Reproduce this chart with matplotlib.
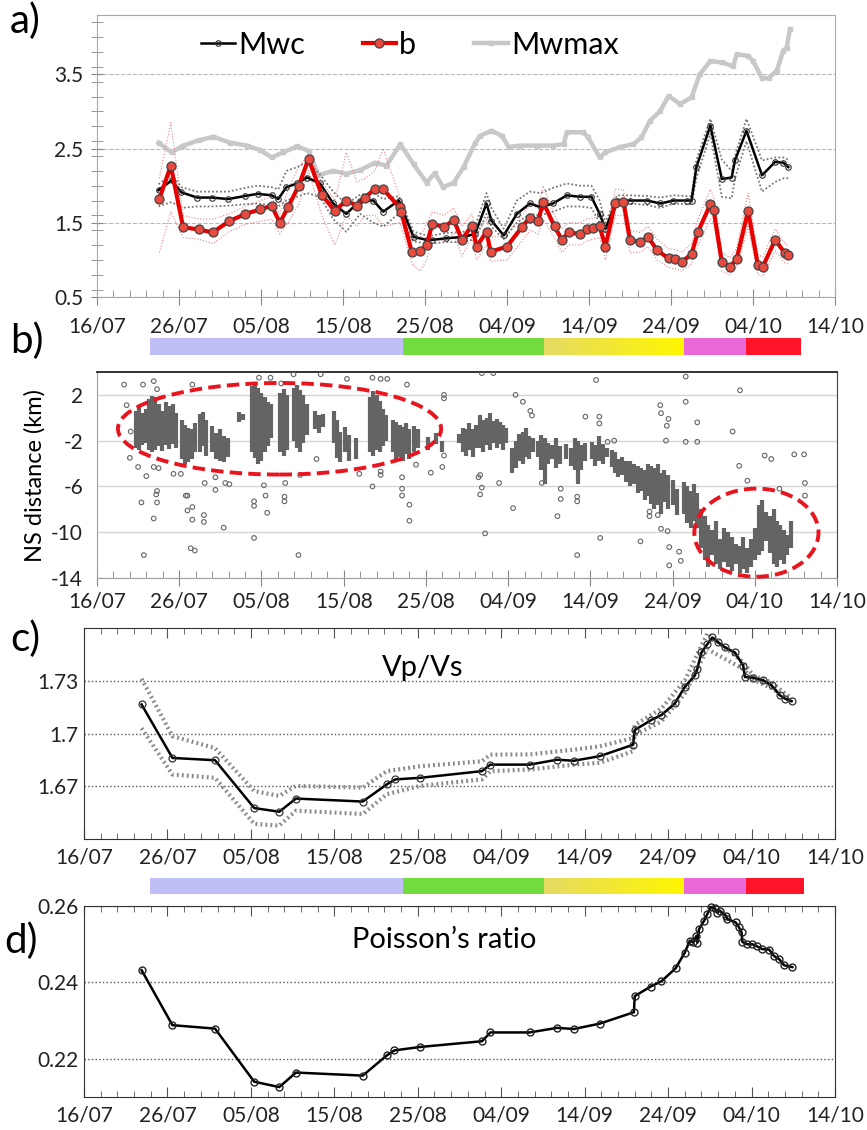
import numpy as np
import matplotlib.pyplot as plt
from matplotlib.patches import Ellipse
from matplotlib.colors import LinearSegmentedColormap
from matplotlib.ticker import MultipleLocator, FixedLocator

plt.rcParams['font.family'] = ['Lato', 'DejaVu Sans']

# x axis: days since 16/07
date_ticks = [0, 10, 20, 30, 40, 50, 60, 70, 80, 90]
date_labels = ['16/07', '26/07', '05/08', '15/08', '25/08',
               '04/09', '14/09', '24/09', '04/10', '14/10']

# ---- a) magnitude of completeness, b-value, max magnitude
mwc_day = [7.5, 9.1, 10.3, 12.2, 14.0, 16.0, 18.0, 19.6, 21.3, 22.1,
           23.1, 24.4, 25.6, 27.2, 28.8, 30.4, 32.1, 33.7, 34.9, 36.8,
           38.6, 40.2, 40.9, 42.5, 44.7, 46.1, 47.5, 48.1, 49.6, 51.2,
           52.8, 54.1, 55.6, 57.3, 58.9, 60.3, 61.3, 62.0, 63.4, 65.0,
           67.1, 68.7, 70.3, 71.9, 72.5, 73.1, 74.8, 76.2, 77.4, 77.8,
           79.2, 81.1, 82.7, 83.7, 84.3]
mwc = [1.94, 2.07, 1.91, 1.84, 1.84, 1.82, 1.86, 1.89, 1.87, 1.82,
       1.98, 2.03, 2.11, 2.03, 1.76, 1.62, 1.80, 1.80, 1.65, 1.80,
       1.31, 1.27, 1.27, 1.29, 1.31, 1.35, 1.76, 1.53, 1.33, 1.62,
       1.76, 1.71, 1.76, 1.87, 1.85, 1.85, 1.62, 1.42, 1.80, 1.80,
       1.80, 1.76, 1.80, 1.80, 1.80, 2.25, 2.81, 2.09, 2.11, 2.34,
       2.74, 2.14, 2.32, 2.31, 2.25]
mwc_hi = [2.02, 2.15, 1.98, 1.92, 1.92, 1.92, 1.97, 2.00, 1.98, 1.95,
          2.20, 2.25, 2.32, 2.15, 1.92, 1.75, 1.88, 1.90, 1.82, 1.86,
          1.38, 1.33, 1.33, 1.36, 1.38, 1.45, 1.90, 1.70, 1.42, 1.80,
          1.92, 1.90, 1.97, 2.03, 2.00, 2.00, 1.80, 1.50, 1.87, 1.87,
          1.86, 1.84, 1.87, 1.86, 1.86, 2.35, 2.90, 2.35, 2.20, 2.40,
          2.90, 2.34, 2.38, 2.38, 2.35]
mwc_lo = [1.72, 1.78, 1.70, 1.72, 1.72, 1.73, 1.75, 1.76, 1.74, 1.72,
          1.80, 1.85, 1.90, 1.85, 1.55, 1.38, 1.62, 1.50, 1.45, 1.62,
          1.25, 1.22, 1.22, 1.24, 1.24, 1.28, 1.62, 1.45, 1.28, 1.50,
          1.62, 1.60, 1.65, 1.72, 1.72, 1.70, 1.50, 1.38, 1.74, 1.76,
          1.74, 1.70, 1.76, 1.75, 1.75, 2.10, 2.70, 1.85, 1.83, 2.10,
          2.60, 1.92, 2.05, 2.10, 2.10]

b_day = [7.6, 9.0, 10.5, 12.4, 14.1, 16.1, 18.1, 19.9, 21.3, 22.3,
         23.3, 24.6, 25.8, 27.4, 29.0, 30.4, 31.7, 32.7, 33.9, 34.9,
         36.9, 37.1, 38.4, 39.4, 40.2, 40.9, 42.3, 43.5, 44.5, 45.7,
         46.3, 47.5, 48.0, 50.0, 51.8, 52.8, 53.8, 54.4, 55.8, 56.7,
         57.5, 58.9, 59.7, 60.5, 61.3, 62.0, 63.2, 64.2, 65.0, 66.2,
         67.2, 68.3, 69.7, 70.5, 71.3, 72.5, 73.3, 74.8, 75.2, 76.2,
         77.2, 78.0, 79.4, 80.6, 81.2, 82.7, 83.9, 84.3]
b_val = [1.82, 2.27, 1.44, 1.41, 1.37, 1.52, 1.62, 1.68, 1.73, 1.50,
         1.71, 2.00, 2.36, 1.88, 1.66, 1.80, 1.73, 1.84, 1.96, 1.95,
         1.71, 1.65, 1.10, 1.12, 1.20, 1.49, 1.44, 1.54, 1.27, 1.46,
         1.18, 1.38, 1.11, 1.18, 1.44, 1.57, 1.52, 1.78, 1.45, 1.27,
         1.37, 1.35, 1.41, 1.43, 1.45, 1.18, 1.77, 1.78, 1.27, 1.24,
         1.31, 1.13, 1.02, 1.01, 0.97, 1.08, 1.38, 1.75, 1.67, 0.97,
         0.91, 1.01, 1.66, 0.93, 0.91, 1.27, 1.09, 1.07]
b_hi = [2.10, 2.85, 1.60, 1.55, 1.55, 1.62, 1.72, 1.80, 1.85, 1.62,
        1.95, 2.25, 2.42, 2.05, 1.80, 2.45, 2.05, 2.10, 2.20, 2.50,
        1.85, 1.80, 1.25, 1.30, 1.50, 1.65, 1.60, 1.70, 1.45, 1.62,
        1.35, 1.55, 1.30, 1.35, 1.60, 1.75, 1.70, 2.00, 1.60, 1.42,
        1.50, 1.50, 1.55, 1.56, 1.60, 1.35, 1.95, 1.95, 1.40, 1.37,
        1.45, 1.28, 1.15, 1.14, 1.10, 1.22, 1.55, 1.95, 1.85, 1.10,
        1.03, 1.15, 1.90, 1.07, 1.04, 1.42, 1.22, 1.20]
b_lo = [1.10, 1.65, 1.30, 1.28, 1.22, 1.38, 1.48, 1.52, 1.55, 1.35,
        1.50, 1.75, 2.20, 1.60, 1.20, 1.60, 1.45, 1.60, 1.60, 1.45,
        1.50, 1.45, 0.95, 0.85, 1.00, 1.30, 1.25, 1.35, 1.05, 1.30,
        1.00, 1.20, 0.98, 1.00, 1.25, 1.40, 1.35, 1.55, 1.30, 1.10,
        1.20, 1.20, 1.25, 1.28, 1.30, 1.00, 1.60, 1.60, 1.10, 1.10,
        1.18, 1.00, 0.90, 0.88, 0.85, 0.95, 1.20, 1.55, 1.50, 0.85,
        0.80, 0.90, 1.45, 0.80, 0.78, 1.12, 0.96, 0.95]

mwmax_day = [7.5, 9.1, 10.5, 12.4, 14.2, 16.2, 18.3, 19.9, 21.3, 22.7,
             24.4, 25.8, 27.0, 28.8, 30.4, 32.1, 33.9, 35.3, 37.0, 38.6,
             40.2, 41.2, 42.2, 43.5, 44.7, 46.1, 46.7, 48.1, 49.4, 50.2,
             51.6, 53.6, 55.6, 56.9, 57.3, 59.3, 59.9, 61.3, 62.0, 63.8,
             65.4, 66.4, 67.4, 68.7, 69.7, 71.1, 72.5, 73.5, 74.8, 76.2,
             77.6, 78.0, 79.4, 80.0, 81.1, 81.9, 82.9, 83.7, 84.1, 84.5]
mwmax = [2.58, 2.45, 2.54, 2.61, 2.66, 2.58, 2.54, 2.48, 2.38, 2.45,
         2.53, 2.47, 2.14, 2.20, 2.16, 2.21, 2.31, 2.27, 2.56, 2.29,
         2.04, 2.17, 1.98, 2.04, 2.25, 2.57, 2.67, 2.74, 2.67, 2.52,
         2.54, 2.54, 2.54, 2.56, 2.72, 2.72, 2.65, 2.38, 2.45, 2.52,
         2.56, 2.65, 2.87, 3.01, 3.21, 3.10, 3.19, 3.50, 3.68, 3.66,
         3.61, 3.77, 3.75, 3.68, 3.45, 3.45, 3.55, 3.82, 3.86, 4.11]

# ---- colour bars (phases), in days
phase_edges = [6.45, 37.2, 54.4, 71.4, 78.9, 85.6]
phase_colors = ['#bfbff5', '#72dc3e', None, '#ea68d8', '#ff1428']

# ---- b) NS distance of events: dense streaks (day, low, high) and single events
streaks = [
    (4.7, -2.6, 0.6), (5.1, -2.8, 0.9), (5.5, -2.4, 0.4), (5.9, -2.2, 0.8),
    (6.3, -2.8, 1.6), (6.7, -3.0, 1.9), (7.1, -2.8, 1.8), (7.5, -2.5, 1.2),
    (7.9, -2.9, 0.6), (8.4, -2.4, 1.4), (8.8, -2.7, 1.0), (9.2, -2.3, 1.2),
    (9.6, -2.6, 0.4), (10.3, -3.6, -0.2), (10.7, -4.0, -0.6), (11.1, -3.9, -0.9),
    (11.5, -3.6, -1.0), (11.9, -3.0, -0.5), (12.5, -3.0, 0.3), (12.9, -2.5, 0.5),
    (13.3, -3.3, -0.2), (14.0, -3.0, -0.7), (14.5, -3.6, -1.3), (15.0, -3.8, -1.0),
    (15.5, -3.9, -1.6), (15.9, -3.4, -1.8), (17.3, -0.4, 0.5), (17.8, -0.2, 0.3),
    (18.8, -3.0, 2.8), (19.2, -3.5, 3.0), (19.6, -4.0, 2.6), (20.0, -3.8, 2.2),
    (20.4, -3.0, 1.8), (20.8, -2.5, 1.4), (21.2, -1.8, 1.2), (22.3, -3.0, 2.2),
    (22.7, -3.3, 2.5), (23.1, -2.8, 2.0), (23.9, -2.0, 2.6), (24.3, -2.6, 2.9),
    (24.7, -3.0, 2.4), (25.1, -2.2, 2.0), (25.5, -1.5, 1.2), (26.5, -1.0, 0.6),
    (27.0, -1.3, 0.2), (27.5, -0.8, 0.3), (28.8, -2.2, 0.6), (29.2, -3.5, -0.2),
    (29.6, -3.9, -1.2), (30.2, -3.0, -0.8), (30.6, -3.8, -1.5), (31.5, -3.6, -1.8),
    (33.2, -3.0, 1.8), (33.6, -3.3, 2.3), (34.0, -2.8, 2.0), (34.4, -3.0, 1.5),
    (34.8, -2.5, 0.8), (35.2, -2.0, 0.2), (36.0, -3.0, -0.2), (36.4, -3.6, -0.4),
    (36.8, -3.4, -0.6), (37.2, -3.8, -0.8), (37.6, -3.2, -0.5), (38.0, -3.6, -1.0),
    (38.5, -3.0, -0.7), (39.0, -2.6, -1.0), (40.3, -2.8, -1.7), (41.2, -2.3, -1.3),
    (42.0, -3.0, -2.0), (44.0, -2.2, -1.4), (44.5, -3.0, -0.9), (44.9, -3.3, -1.0),
    (45.3, -2.8, -0.5), (45.7, -3.4, -1.0), (46.1, -2.6, -0.6), (46.6, -2.6, 0.2),
    (47.0, -3.0, -0.2), (47.4, -2.4, 0.0), (47.8, -2.8, 0.4), (48.2, -2.2, -0.3),
    (48.6, -2.6, -0.1), (49.0, -2.3, -0.4), (49.4, -2.8, -0.6), (49.8, -2.2, -0.9),
    (50.5, -4.8, -2.6), (50.9, -4.4, -2.0), (51.3, -3.8, -1.4), (51.8, -4.0, -1.2),
    (52.2, -3.4, -0.9), (52.6, -3.6, -1.6), (53.0, -3.0, -1.8), (53.6, -3.4, -2.0),
    (54.0, -4.6, -1.5), (54.5, -5.8, -1.8), (54.9, -4.0, -2.2), (55.3, -3.6, -2.4),
    (55.8, -4.4, -1.8), (56.3, -4.0, -2.5), (57.0, -3.6, -2.3), (57.6, -4.2, -2.6),
    (58.1, -4.6, -1.8), (58.5, -5.8, -2.0), (58.9, -4.6, -2.4), (59.3, -3.8, -2.2),
    (60.2, -3.6, -2.1), (60.6, -4.2, -2.4), (61.0, -3.8, -1.6), (61.5, -4.0, -2.3),
    (62.0, -3.4, -2.6), (62.6, -4.3, -2.8), (63.0, -4.8, -3.0), (63.4, -5.2, -3.6),
    (63.8, -5.0, -3.4), (64.3, -5.6, -3.8), (64.8, -6.0, -3.8), (65.3, -5.8, -4.0),
    (65.8, -6.6, -4.2), (66.2, -6.4, -4.4), (66.6, -7.2, -4.6), (67.0, -6.8, -4.0),
    (67.4, -7.5, -4.2), (67.8, -8.0, -4.4), (68.2, -7.6, -4.0), (68.6, -8.4, -4.8),
    (69.0, -7.4, -4.6), (69.5, -8.0, -5.0), (70.0, -7.6, -5.4), (70.5, -8.5, -6.2),
    (71.4, -8.4, -5.6), (71.8, -9.2, -6.0), (72.2, -9.6, -6.4), (72.6, -9.0, -5.8),
    (73.0, -9.6, -6.6), (73.5, -11.4, -8.0), (73.9, -12.4, -8.6), (74.3, -13.0, -9.4),
    (74.8, -12.0, -9.8), (75.3, -12.8, -9.0), (75.8, -13.2, -10.6), (76.2, -12.6, -9.6),
    (76.7, -13.0, -10.0), (77.2, -13.4, -10.4), (77.7, -12.8, -11.0), (78.2, -13.6, -11.2),
    (78.6, -13.2, -10.4), (79.1, -13.6, -11.4), (79.5, -13.0, -10.6), (80.0, -12.4, -9.6),
    (80.5, -12.0, -7.6), (80.9, -11.6, -7.2), (81.4, -10.8, -8.2), (81.8, -11.8, -8.6),
    (82.3, -12.8, -8.0), (82.7, -13.0, -9.0), (83.1, -12.4, -9.4), (83.5, -12.8, -9.8),
    (83.9, -12.0, -10.2), (84.4, -11.4, -9.0),
]
events = [
    (3.3, 2.9), (5.6, 2.9), (6.9, 3.2), (7.3, 2.5), (11.6, 2.9), (3.6, 1.1),
    (4.1, -1.2), (4.0, -3.5), (5.0, -4.3), (6.0, -5.1), (6.9, -4.3), (7.5, -4.4),
    (7.2, -6.7), (7.3, -6.4), (5.4, -7.4), (7.3, -7.4), (6.9, -8.8), (5.7, -12.0),
    (9.3, -4.9), (10.2, -4.9), (11.0, -6.8), (10.8, -6.8), (11.0, -8.1), (11.6, -7.8),
    (11.6, -8.9), (13.0, -8.5), (13.0, -9.1), (11.4, -11.4), (11.9, -11.6), (15.4, -9.6),
    (14.4, -6.3), (14.4, -5.2), (15.6, -5.7), (16.1, -5.8), (13.1, -5.7), (19.1, -10.5),
    (19.1, -7.3), (19.1, -7.7), (20.3, -5.9), (20.5, -6.8), (20.7, -8.3), (19.7, 3.5),
    (21.1, 3.5), (22.4, 3.0), (22.8, -7.3), (22.8, -6.9), (23.9, 3.8), (27.2, 3.8),
    (30.4, 3.4), (33.5, 3.5), (34.5, 3.4), (35.3, 3.4), (37.7, 2.9), (42.2, 2.0),
    (42.2, 1.7), (22.9, -5.7), (24.5, -12.0), (33.5, -6.0), (34.5, -5.0), (34.5, -4.7),
    (37.1, -5.2), (37.1, -6.2), (37.1, -6.8), (38.0, -7.6), (38.0, -9.0), (38.8, -4.1),
    (40.6, -4.8), (42.0, -4.3), (42.2, -3.3), (31.9, -4.9), (24.7, -5.0), (26.7, -3.6),
    (46.8, 3.9), (48.2, 3.9), (50.9, 2.0), (51.8, 1.4), (60.7, 3.3), (61.1, 0.1),
    (61.1, -0.5), (59.4, 0.1), (52.7, 0.6), (52.9, 0.2), (46.6, -6.7), (46.8, -6.1),
    (46.4, -5.2), (46.6, -5.0), (48.9, -5.7), (50.6, -7.9), (47.2, -10.1), (56.0, -8.6),
    (56.4, -7.1), (56.4, -6.2), (58.4, -12.0), (58.4, -7.3), (58.4, -6.9), (61.2, -10.5),
    (66.1, -10.8), (67.2, -8.2), (67.2, -8.6), (54.1, -5.7), (62.9, -2.0), (62.1, -2.1),
    (71.6, 3.6), (78.2, 2.4), (68.5, 1.1), (68.6, 0.4), (71.6, 1.4), (73.0, -0.4),
    (69.5, -0.1), (69.3, -0.7), (77.3, -1.2), (69.2, -2.0), (71.6, -2.1), (73.0, -2.1),
    (81.2, -3.3), (82.0, -3.6), (84.8, -3.2), (86.0, -3.2), (78.1, -4.2), (79.1, -5.5),
    (83.0, -6.2), (86.1, -5.7), (86.1, -6.8), (68.6, -9.7), (69.4, -9.9), (69.6, -11.3),
    (70.8, -11.7), (71.0, -12.5), (69.6, -12.9), (68.2, -8.5),
]

# ---- c) Vp/Vs
vp_day = [6.9, 10.6, 15.7, 20.4, 23.4, 25.4, 33.4, 36.3, 37.3, 40.3,
          47.7, 48.7, 53.4, 56.7, 58.7, 61.8, 65.8, 66.0, 68.0, 69.2,
          70.8, 72.0, 73.2, 73.5, 74.0, 74.7, 75.3, 76.0, 76.8, 78.0,
          79.0, 79.2, 80.2, 81.4, 82.4, 83.4, 84.0, 84.8]
vp = [1.7165, 1.6861, 1.6848, 1.6576, 1.6555, 1.6630, 1.6613, 1.6711, 1.6739, 1.6748,
      1.6786, 1.6823, 1.6823, 1.6851, 1.6845, 1.6871, 1.6936, 1.7020, 1.7077, 1.7105,
      1.7171, 1.7265, 1.7330, 1.7368, 1.7461, 1.7508, 1.7546, 1.7518, 1.7490, 1.7461,
      1.7386, 1.7321, 1.7317, 1.7302, 1.7274, 1.7217, 1.7199, 1.7184]
vp_bnd_day = [6.9, 10.6, 15.7, 20.4, 23.4, 25.4, 33.4, 36.3, 40.3, 47.7,
              48.7, 53.4, 58.7, 61.8, 65.8, 66.0, 69.2, 72.0, 74.7, 79.0,
              80.2, 82.4, 84.8]
vp_hi = [1.7311, 1.6985, 1.6917, 1.6673, 1.6645, 1.6702, 1.6692, 1.6786, 1.6814, 1.6842,
         1.6880, 1.6881, 1.6908, 1.6927, 1.6974, 1.7048, 1.7142, 1.7302, 1.7570, 1.7405,
         1.7330, 1.7290, 1.7199]
vp_lo = [1.7030, 1.6767, 1.6748, 1.6486, 1.6476, 1.6561, 1.6542, 1.6655, 1.6702, 1.6739,
         1.6786, 1.6795, 1.6823, 1.6833, 1.6899, 1.6992, 1.7068, 1.7227, 1.7480, 1.7367,
         1.7305, 1.7258, 1.7177]

# ---- d) Poisson's ratio
pr_day = [6.9, 10.6, 15.7, 20.4, 23.4, 25.4, 33.4, 36.3, 37.2, 40.3,
          47.7, 48.7, 53.4, 56.7, 58.7, 61.8, 65.9, 66.0, 67.9, 69.2,
          70.9, 72.0, 72.6, 73.0, 73.4, 73.5, 73.7, 74.3, 74.7, 75.1,
          75.6, 75.9, 76.2, 76.9, 77.1, 78.1, 78.5, 78.8, 78.9, 79.5,
          80.1, 80.7, 81.3, 82.1, 82.7, 83.3, 83.9, 84.9]
pr = [0.2432, 0.2288, 0.2279, 0.2140, 0.2126, 0.2164, 0.2156, 0.2209, 0.2222, 0.2231,
      0.2246, 0.2269, 0.2269, 0.2281, 0.2278, 0.2292, 0.2322, 0.2364, 0.2389, 0.2403,
      0.2437, 0.2478, 0.2509, 0.2505, 0.2522, 0.2504, 0.2539, 0.2561, 0.2579, 0.2597,
      0.2594, 0.2582, 0.2588, 0.2575, 0.2566, 0.2557, 0.2544, 0.2531, 0.2506, 0.2500,
      0.2500, 0.2494, 0.2487, 0.2486, 0.2469, 0.2461, 0.2445, 0.2440]

TICK_FS = 15
W, H = 867, 1130


def px_axes(fig, left, top, right, bottom):
    return fig.add_axes([left / W, 1 - bottom / H, (right - left) / W, (bottom - top) / H])


def date_axis(ax):
    ax.set_xlim(0, 90)
    ax.xaxis.set_major_locator(FixedLocator(date_ticks))
    ax.set_xticklabels(date_labels)
    ax.xaxis.set_minor_locator(MultipleLocator(2))
    ax.tick_params(axis='both', labelsize=TICK_FS, colors='#222222')


def phase_bar(fig, top, bottom, right_day):
    bax = px_axes(fig, 97, top, 837, bottom)
    edges = phase_edges[:-1] + [right_day]
    for i, c in enumerate(phase_colors):
        if c is None:
            cmap = LinearSegmentedColormap.from_list('yel', ['#e6da64', '#fff700'])
            bax.imshow(np.linspace(0, 1, 100)[None, :], cmap=cmap, aspect='auto',
                       extent=(edges[i], edges[i + 1], 0, 1))
        else:
            bax.axvspan(edges[i], edges[i + 1], color=c, lw=0)
    bax.set_xlim(0, 90)
    bax.set_ylim(0, 1)
    bax.axis('off')


fig = plt.figure(figsize=(W / 100, H / 100), dpi=100)

# ===== panel a
ax = px_axes(fig, 97, 15, 835, 297)
ax.plot(mwmax_day, mwmax, color='#c8c8c8', lw=3.2, marker='s', ms=2.5, zorder=2, label='Mwmax')
ax.plot(b_day, b_hi, color='#f08080', lw=0.8, ls=':', zorder=3)
ax.plot(b_day, b_lo, color='#f08080', lw=0.8, ls=':', zorder=3)
ax.plot(mwc_day, mwc_hi, color='#777777', lw=1.3, ls=(0, (1, 1.2)), zorder=3)
ax.plot(mwc_day, mwc_lo, color='#777777', lw=1.3, ls=(0, (1, 1.2)), zorder=3)
ax.plot(mwc_day, mwc, color='black', lw=1.8, marker='o', ms=4, mfc='none', mec='#333333',
        mew=0.8, zorder=4, label='Mwc')
ax.plot(b_day, b_val, color='#e60000', lw=3.0, marker='o', ms=6.5, mfc='#e84a40', mec='#444444',
        mew=0.9, zorder=5, label='b')
ax.set_ylim(0.5, 4.3)
ax.set_yticks([0.5, 1.5, 2.5, 3.5])
ax.set_yticklabels(['0.5', '1.5', '2.5', '3.5'])
ax.yaxis.set_minor_locator(MultipleLocator(0.2))
date_axis(ax)
ax.grid(axis='y', ls='--', color='#b8b8b8', lw=0.8)
ax.set_axisbelow(True)
for s in ax.spines.values():
    s.set_color('#a8a8a8')
ax.tick_params(axis='x', which='major', direction='inout', length=12, color='#888888', pad=8)
ax.tick_params(axis='x', which='minor', direction='in', length=5, color='#888888')
ax.tick_params(axis='y', which='both', direction='inout', length=8, color='#888888', pad=6)
h, l = ax.get_legend_handles_labels()
order = [l.index('Mwc'), l.index('b'), l.index('Mwmax')]
ax.legend([h[i] for i in order], [l[i] for i in order], loc='center', bbox_to_anchor=(0.424, 0.894),
          ncol=3, frameon=False, fontsize=22, handlelength=1.1, handletextpad=0.1,
          columnspacing=1.9, borderpad=0)
fig.text(10 / W, 1 - 2 / H, 'a)', fontsize=29, va='top', ha='left')

# ===== colour bar 1
phase_bar(fig, 338, 355, 85.6)

# ===== panel b
ax = px_axes(fig, 97, 372, 837, 578)
sd, slo, shi = zip(*streaks)
ax.vlines(sd, slo, shi, color='#646464', lw=3.0, zorder=2)
ed, ev = zip(*events)
ax.scatter(ed, ev, s=11, facecolors='none', edgecolors='#666666', linewidths=0.8, zorder=3)
ax.add_patch(Ellipse((22.2, -0.96), 39.3, 8.0, fill=False, ec='#e8141e', lw=2.8,
                     ls=(0, (3.2, 1.6)), zorder=5, clip_on=False))
ax.add_patch(Ellipse((80.2, -10.04), 15.1, 7.7, fill=False, ec='#e8141e', lw=2.8,
                     ls=(0, (3.2, 1.6)), zorder=5, clip_on=False))
ax.set_ylim(-14, 4)
ax.set_yticks([2, -2, -6, -10, -14])
ax.set_yticklabels(['2', '-2', '-6', '-10', '-14'])
date_axis(ax)
ax.grid(axis='y', color='#d6d6d6', lw=1)
ax.set_axisbelow(True)
ax.spines['top'].set_color('#222222')
ax.spines['top'].set_linewidth(1.3)
ax.spines['right'].set_color('#444444')
ax.spines['left'].set_color('#a0a0a0')
ax.spines['bottom'].set_color('#a0a0a0')
ax.tick_params(axis='x', which='major', direction='inout', length=12, color='#888888', pad=4)
ax.tick_params(axis='x', which='minor', direction='in', length=5, color='#888888')
ax.tick_params(axis='y', length=0, pad=10)
ax.set_ylabel('NS distance (km)', fontsize=17, labelpad=4)
fig.text(10 / W, 1 - 322 / H, 'b)', fontsize=29, va='top', ha='left')

# ===== panel c
ax = px_axes(fig, 84, 628, 835, 839)
ax.plot(vp_bnd_day, vp_hi, color='#8a8a8a', lw=3, ls=(0, (0.45, 0.75)), zorder=2)
ax.plot(vp_bnd_day, vp_lo, color='#8a8a8a', lw=3, ls=(0, (0.45, 0.75)), zorder=2)
ax.plot(vp_day, vp, color='black', lw=1.8, marker='o', ms=5, mfc='none', mec='#333333',
        mew=0.9, zorder=3)
ax.set_ylim(1.64, 1.76)
ax.set_yticks([1.67, 1.70, 1.73])
ax.set_yticklabels(['1.67', '1.7', '1.73'])
date_axis(ax)
ax.grid(axis='y', ls=':', color='#555555', lw=1)
for s in ax.spines.values():
    s.set_color('#333333')
ax.tick_params(axis='x', which='major', direction='in', length=7, top=True, color='#555555', pad=6)
ax.tick_params(axis='x', which='minor', direction='in', length=4, top=True, color='#555555')
ax.tick_params(axis='y', length=0, pad=4)
ax.text(0.451, 0.81, 'Vp/Vs', transform=ax.transAxes, fontsize=21, ha='center', va='center')
fig.text(10 / W, 1 - 620 / H, 'c)', fontsize=29, va='top', ha='left')

# ===== colour bar 2
phase_bar(fig, 878, 894, 86.0)

# ===== panel d
ax = px_axes(fig, 84, 906, 835, 1097)
ax.plot(pr_day, pr, color='black', lw=1.8, marker='o', ms=5, mfc='none', mec='#222222',
        mew=1.0, zorder=3, clip_on=False)
ax.set_ylim(0.21, 0.26)
ax.set_yticks([0.22, 0.24, 0.26])
ax.set_yticklabels(['0.22', '0.24', '0.26'])
date_axis(ax)
ax.grid(axis='y', ls=':', color='#555555', lw=1)
for s in ax.spines.values():
    s.set_color('#333333')
ax.tick_params(axis='x', which='major', direction='in', length=7, top=True, color='#555555', pad=6)
ax.tick_params(axis='x', which='minor', direction='in', length=4, top=True, color='#555555')
ax.tick_params(axis='y', length=0, pad=4)
ax.text(0.479, 0.822, 'Poisson\u2019s ratio', transform=ax.transAxes, fontsize=21,
        ha='center', va='center')
fig.text(4 / W, 1 - 922 / H, 'd)', fontsize=29, va='top', ha='left')

fig.savefig('out.png', dpi=100)
